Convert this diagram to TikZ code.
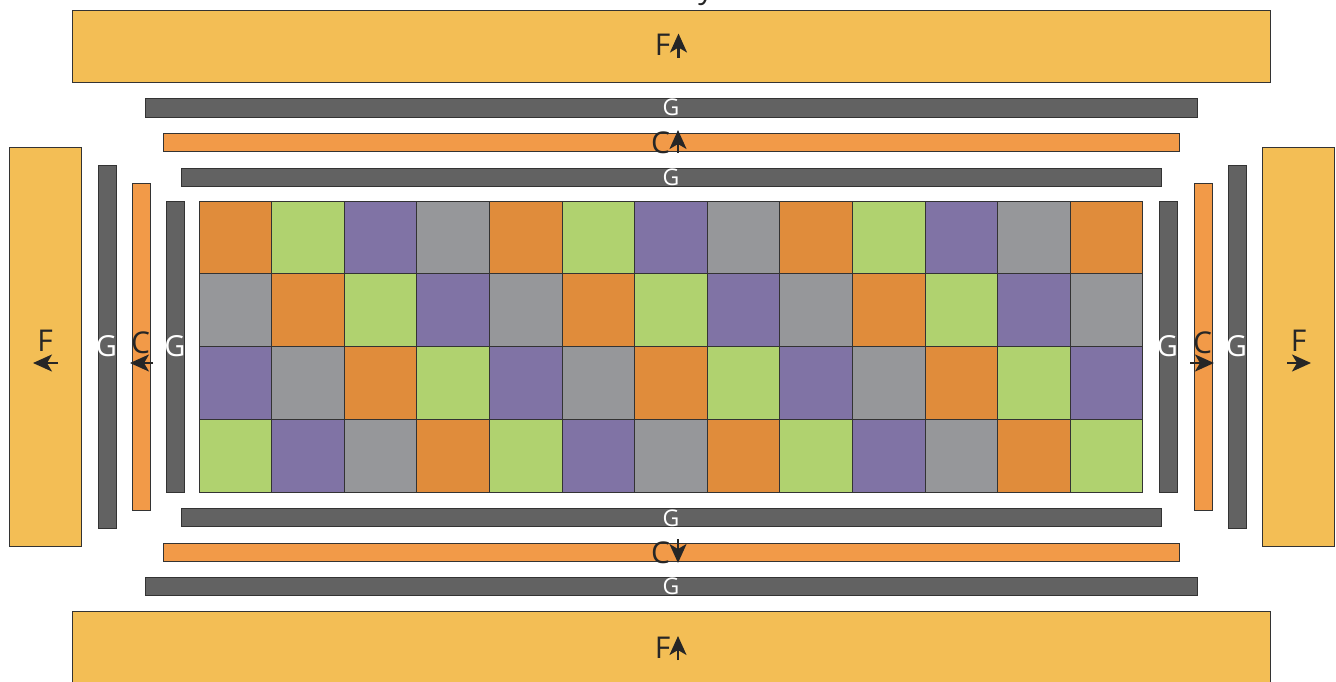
\documentclass[tikz,border=0pt]{standalone}
\usepackage{fontspec}
\setmainfont{Open Sans}
\usetikzlibrary{arrows.meta}

\definecolor{fyellow}{HTML}{F3BE55}
\definecolor{gdark}{HTML}{626262}
\definecolor{corange}{HTML}{F29A48}
\definecolor{cellc0}{HTML}{E08C3B}
\definecolor{cellc1}{HTML}{B0D26F}
\definecolor{cellc2}{HTML}{8073A5}
\definecolor{cellc3}{HTML}{96979A}

\begin{document}
\begin{tikzpicture}[
    x=1pt, y=-1pt,
    bar/.style={rectangle, draw=black!80, line width=0.9pt, inner sep=0pt, outer sep=0pt},
    fbar/.style={bar, fill=fyellow, minimum width=#1},
    gbar/.style={bar, fill=gdark},
    cbar/.style={bar, fill=corange},
    cell/.style={rectangle, draw=black!80, line width=0.9pt, inner sep=0pt, minimum width=72.6pt, minimum height=72.75pt},
    lbl/.style={font=\fontsize{30}{30}\selectfont, text=black!85, inner sep=0pt},
    glbl/.style={font=\fontsize{23}{23}\selectfont, text=white, inner sep=0pt},
    gvlbl/.style={font=\fontsize{29}{29}\selectfont, text=white, inner sep=0pt},
    >={Stealth[length=19pt, width=17pt, inset=5pt]},
    arr/.style={->, line width=2.2pt, draw=black!85}
]
    \useasboundingbox (0,0) rectangle (1336,681);

    % Outer F plates
    \node[fbar=1198pt, minimum height=72pt] (ftop) at (671,46) {};
    \node[fbar=1198pt, minimum height=72pt] (fbot) at (671,647) {};
    \node[fbar=72pt, minimum height=399pt] (fleft) at (45,346.5) {};
    \node[fbar=72pt, minimum height=399pt] (fright) at (1298,346.5) {};

    % G and C strips, top and bottom
    \node[gbar, minimum width=1052pt, minimum height=19pt] (gtop1) at (671,107.5) {};
    \node[cbar, minimum width=1016pt, minimum height=18pt] (ctop) at (671,142) {};
    \node[gbar, minimum width=980pt, minimum height=18pt] (gtop2) at (671,177) {};
    \node[gbar, minimum width=980pt, minimum height=18pt] (gbot2) at (671,517) {};
    \node[cbar, minimum width=1016pt, minimum height=18pt] (cbot) at (671,552) {};
    \node[gbar, minimum width=1052pt, minimum height=18pt] (gbot1) at (671,586) {};

    % G and C strips, left and right
    \node[gbar, minimum width=18pt, minimum height=363pt] (gleft1) at (107,346.5) {};
    \node[cbar, minimum width=18pt, minimum height=327pt] (cleft) at (141,346.5) {};
    \node[gbar, minimum width=18pt, minimum height=291pt] (gleft2) at (175,346.5) {};
    \node[gbar, minimum width=18pt, minimum height=291pt] (gright2) at (1168,346.5) {};
    \node[cbar, minimum width=18pt, minimum height=327pt] (cright) at (1203,346.5) {};
    \node[gbar, minimum width=18pt, minimum height=363pt] (gright1) at (1237,346.5) {};

    % Grid of cells
    \foreach \r in {0,...,3}
      \foreach \c in {0,...,12} {
        \pgfmathtruncatemacro\k{mod(\c-\r+4,4)}
        \node[cell, fill=cellc\k] (cell-\r-\c) at ({199+72.6*(\c+0.5)},{201+72.75*(\r+0.5)}) {};
      }

    % Labels
    \node[lbl, anchor=base] (ytxt) at (706,-2) {y};
    \node[lbl] (ftoplbl) at (662.5,44.5) {F};
    \node[glbl] (gtop1lbl) at (671,107) {G};
    \node[lbl] (ctoplbl) at (660.5,143) {C};
    \node[glbl] (gtop2lbl) at (671,177) {G};
    \node[glbl] (gbot2lbl) at (671,518) {G};
    \node[lbl] (cbotlbl) at (660.5,553) {C};
    \node[glbl] (gbot1lbl) at (671,586) {G};
    \node[lbl] (fbotlbl) at (662.5,647.5) {F};

    \node[lbl] (fleftlbl) at (45,341) {F};
    \node[gvlbl] (gleft1lbl) at (106.5,346.5) {G};
    \node[lbl] (cleftlbl) at (140.5,342.5) {C};
    \node[gvlbl] (gleft2lbl) at (175,346.5) {G};
    \node[gvlbl] (gright2lbl) at (1167.5,346.5) {G};
    \node[lbl] (crightlbl) at (1202.5,343) {C};
    \node[gvlbl] (gright1lbl) at (1236.5,346.5) {G};
    \node[lbl] (frightlbl) at (1298.5,341) {F};

    % Direction arrows
    \draw[arr] (ftoplbl.center) ++(16,13) -- ++(0,-24);
    \draw[arr] (ctoplbl.center) ++(17.5,10) -- ++(0,-23);
    \draw[arr] (cbotlbl.center) ++(17.5,-14) -- ++(0,24);
    \draw[arr] (fbotlbl.center) ++(15.5,12.5) -- ++(0,-24);
    \draw[arr] (fleftlbl.center) ++(13,22) -- ++(-25,0);
    \draw[arr] (cleftlbl.center) ++(12.5,20.5) -- ++(-23,0);
    \draw[arr] (crightlbl.center) ++(-12.5,20) -- ++(24,0);
    \draw[arr] (frightlbl.center) ++(-11.5,22) -- ++(24,0);
\end{tikzpicture}
\end{document}
